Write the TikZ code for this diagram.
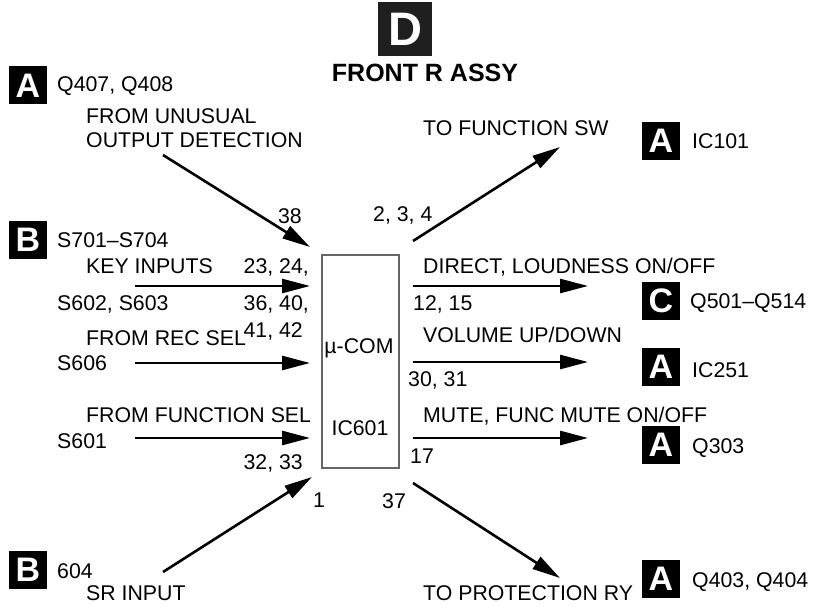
\documentclass[tikz,border=0pt]{standalone}
\usepackage{fontspec}
\setmainfont{Liberation Sans}
\usetikzlibrary{arrows.meta,positioning}

\begin{document}
\begin{tikzpicture}[
    x=1pt, y=-1pt,
    font=\fontsize{21.3}{24}\selectfont,
    sig/.style={line width=2.6pt, -{Triangle[length=28pt,width=14pt]}},
    lbl/.style={inner sep=0pt, anchor=base west},
    rlbl/.style={inner sep=0pt, anchor=base east},
    tagbox/.style={fill=black, text=white, inner sep=0pt, minimum size=38pt, font=\bfseries\fontsize{34}{34}\selectfont},
    titlebox/.style={fill=black!88, text=white, inner sep=0pt, minimum size=54pt, font=\bfseries\fontsize{47}{47}\selectfont},
    mcubox/.style={draw=black!60, line width=1.2pt, minimum width=77pt, minimum height=213pt, inner sep=0pt}
]
\useasboundingbox (0,0) rectangle (825,607);

% title
\node[titlebox] (dtag) at (405,29.5) {D};
\node[inner sep=0pt, anchor=base, font=\bfseries\fontsize{25}{28}\selectfont] (title) at (425,82) {FRONT R ASSY};

% micro controller
\node[mcubox] (mcu) at (360.5,361.5) {};
\node[inner sep=0pt, anchor=base] (mucom) at (359,353) {µ-COM};
\node[inner sep=0pt, anchor=base] (icname) at (360,435) {IC601};

% inputs
\node[tagbox] (tagq407) at (28,85.5) {A};
\node[lbl] (q407) at (57,92) {Q407, Q408};
\node[lbl] (unusual) at (86,124) {FROM UNUSUAL};
\node[lbl] (detect) at (86,148) {OUTPUT DETECTION};
\node[rlbl] (p38) at (302,223) {38};

\node[tagbox] (tags701) at (28,240) {B};
\node[lbl] (s701) at (57,247) {S701--S704};
\node[lbl] (keyin) at (86,273) {KEY INPUTS};
\node[rlbl] (p23) at (309,273) {23, 24,};
\node[lbl] (s602) at (57,310) {S602, S603};
\node[rlbl] (p36) at (309,310) {36, 40,};
\node[rlbl] (p41) at (303,337) {41, 42};
\node[lbl] (recsel) at (86,345) {FROM REC SEL};
\node[lbl] (s606) at (57,370) {S606};
\node[lbl] (funcsel) at (86,422) {FROM FUNCTION SEL};
\node[lbl] (s601) at (57,448) {S601};
\node[rlbl] (p32) at (303,469) {32, 33};

\node[tagbox] (tag604) at (28,570) {B};
\node[lbl] (s604) at (57,578) {604};
\node[lbl] (srin) at (86,600) {SR INPUT};
\node[lbl] (p1) at (313,507) {1};

% outputs
\node[lbl] (p2) at (373,221) {2, 3, 4};
\node[lbl] (tofsw) at (423,136) {TO FUNCTION SW};
\node[tagbox] (tagic101) at (661,141) {A};
\node[lbl] (ic101) at (692,149) {IC101};

\node[lbl] (direct) at (423,273) {DIRECT, LOUDNESS ON/OFF};
\node[lbl] (p12) at (413,310) {12, 15};
\node[tagbox] (tagq501) at (661,301) {C};
\node[lbl] (q501) at (690,308) {Q501--Q514};

\node[lbl] (volume) at (423,342) {VOLUME UP/DOWN};
\node[lbl] (p30) at (408,386) {30, 31};
\node[tagbox] (tagic251) at (661,367) {A};
\node[lbl] (ic251) at (692,377) {IC251};

\node[lbl] (mute) at (423,422) {MUTE, FUNC MUTE ON/OFF};
\node[lbl] (p17) at (410,463) {17};
\node[tagbox] (tagq303) at (661,444.5) {A};
\node[lbl] (q303) at (692,453) {Q303};

\node[lbl] (p37) at (382,508) {37};
\node[lbl] (toprot) at (423,600) {TO PROTECTION RY};
\node[tagbox] (tagq403) at (661,578.5) {A};
\node[lbl] (q403) at (692,587) {Q403, Q404};

% arrow ends
\coordinate (u0) at (163,155);  \coordinate (u1) at (310,247);
\coordinate (k0) at (135,286);  \coordinate (k1) at (310,286);
\coordinate (r0) at (135,363);  \coordinate (r1) at (310,363);
\coordinate (f0) at (135,438);  \coordinate (f1) at (310,438);
\coordinate (s0) at (163,572);  \coordinate (s1) at (312,477);
\coordinate (w0) at (413,241);  \coordinate (w1) at (560,147);
\coordinate (d0) at (413,286);  \coordinate (d1) at (588,286);
\coordinate (v0) at (413,362);  \coordinate (v1) at (588,362);
\coordinate (m0) at (413,438);  \coordinate (m1) at (588,438);
\coordinate (t0) at (413,483);  \coordinate (t1) at (560,578);

\draw[sig] (u0) -- (u1);
\draw[sig] (k0) -- (k1);
\draw[sig] (r0) -- (r1);
\draw[sig] (f0) -- (f1);
\draw[sig] (s0) -- (s1);
\draw[sig] (w0) -- (w1);
\draw[sig] (d0) -- (d1);
\draw[sig] (v0) -- (v1);
\draw[sig] (m0) -- (m1);
\draw[sig] (t0) -- (t1);
\end{tikzpicture}
\end{document}
